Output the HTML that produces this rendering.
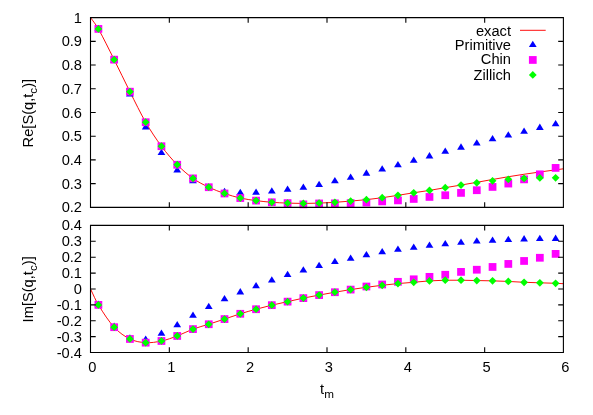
<!DOCTYPE html>
<html><head><meta charset="utf-8"><title>plot</title>
<style>html,body{margin:0;padding:0;background:#fff}svg{display:block;will-change:transform}</style>
</head><body>
<svg width="593" height="415" viewBox="0 0 593 415">
<rect width="593" height="415" fill="#fff"/>
<path d="M90.50 17.50 C93.13 21.30 95.76 24.22 98.38 28.90 C103.64 38.27 108.89 49.19 114.15 59.66 C119.41 70.12 124.66 81.26 129.92 91.70 C135.17 102.13 140.43 113.15 145.68 122.24 C150.94 131.33 156.19 139.14 161.45 146.22 C166.71 153.31 171.96 159.39 177.22 164.75 C182.47 170.11 187.73 174.64 192.98 178.38 C198.24 182.13 203.49 184.70 208.75 187.22 C214.01 189.74 219.26 191.68 224.52 193.49 C229.77 195.29 235.03 196.86 240.28 198.05 C245.54 199.23 250.79 199.91 256.05 200.61 C261.31 201.32 266.56 201.86 271.82 202.28 C277.07 202.69 282.33 202.91 287.58 203.11 C292.84 203.30 298.09 203.46 303.35 203.46 C308.61 203.46 313.86 203.30 319.12 203.11 C324.37 202.92 329.63 202.66 334.88 202.32 C340.14 201.99 345.39 201.53 350.65 201.09 C355.91 200.64 361.16 200.22 366.42 199.66 C371.67 199.10 376.93 198.44 382.18 197.72 C387.44 196.99 392.69 196.14 397.95 195.32 C403.21 194.49 408.46 193.59 413.72 192.78 C418.97 191.96 424.23 191.25 429.48 190.40 C434.74 189.55 439.99 188.56 445.25 187.67 C450.51 186.78 455.76 185.95 461.02 185.06 C466.27 184.17 471.53 183.26 476.78 182.32 C482.04 181.39 487.29 180.41 492.55 179.47 C497.81 178.54 503.06 177.61 508.32 176.74 C513.57 175.87 518.83 175.04 524.08 174.25 C529.34 173.46 534.59 172.73 539.85 171.99 C545.11 171.26 550.36 170.57 555.62 169.86 C558.24 169.50 560.87 169.14 563.50 168.79" fill="none" stroke="#f00" stroke-width="0.95"/>
<g fill="#00f"><path d="M98.38 24.80L94.51 31.08L102.26 31.08Z"/><path d="M114.15 56.39L110.28 62.66L118.03 62.66Z"/><path d="M129.92 90.11L126.04 96.39L133.79 96.39Z"/><path d="M145.68 123.12L141.81 129.40L149.56 129.40Z"/><path d="M161.45 148.65L157.57 154.93L165.32 154.93Z"/><path d="M177.22 166.11L173.34 172.39L181.09 172.39Z"/><path d="M192.98 177.03L189.11 183.31L196.86 183.31Z"/><path d="M208.75 183.45L204.88 189.73L212.62 189.73Z"/><path d="M224.52 187.72L220.64 194.00L228.39 194.00Z"/><path d="M240.28 188.67L236.41 194.95L244.16 194.95Z"/><path d="M256.05 188.39L252.18 194.66L259.93 194.66Z"/><path d="M271.82 187.30L267.94 193.57L275.69 193.57Z"/><path d="M287.58 185.58L283.71 191.86L291.46 191.86Z"/><path d="M303.35 183.57L299.48 189.84L307.23 189.84Z"/><path d="M319.12 180.67L315.24 186.95L322.99 186.95Z"/><path d="M334.88 177.08L331.01 183.36L338.76 183.36Z"/><path d="M350.65 173.47L346.77 179.75L354.52 179.75Z"/><path d="M366.42 169.36L362.54 175.64L370.29 175.64Z"/><path d="M382.18 165.16L378.31 171.44L386.06 171.44Z"/><path d="M397.95 161.00L394.07 167.28L401.82 167.28Z"/><path d="M413.72 156.42L409.84 162.70L417.59 162.70Z"/><path d="M429.48 152.12L425.61 158.40L433.36 158.40Z"/><path d="M445.25 147.59L441.38 153.86L449.12 153.86Z"/><path d="M461.02 143.36L457.14 149.63L464.89 149.63Z"/><path d="M476.78 139.15L472.91 145.43L480.66 145.43Z"/><path d="M492.55 135.04L488.67 141.32L496.42 141.32Z"/><path d="M508.32 131.20L504.44 137.47L512.19 137.47Z"/><path d="M524.08 127.47L520.21 133.75L527.96 133.75Z"/><path d="M539.85 123.60L535.97 129.88L543.72 129.88Z"/><path d="M555.62 119.96L551.74 126.24L559.49 126.24Z"/></g>
<g fill="#f0f"><rect x="94.51" y="25.03" width="7.75" height="7.75"/><rect x="110.28" y="55.78" width="7.75" height="7.75"/><rect x="126.04" y="87.82" width="7.75" height="7.75"/><rect x="141.81" y="118.36" width="7.75" height="7.75"/><rect x="157.57" y="142.35" width="7.75" height="7.75"/><rect x="173.34" y="160.87" width="7.75" height="7.75"/><rect x="189.11" y="174.51" width="7.75" height="7.75"/><rect x="204.88" y="183.34" width="7.75" height="7.75"/><rect x="220.64" y="189.61" width="7.75" height="7.75"/><rect x="236.41" y="194.17" width="7.75" height="7.75"/><rect x="252.18" y="196.74" width="7.75" height="7.75"/><rect x="267.94" y="198.40" width="7.75" height="7.75"/><rect x="283.71" y="199.23" width="7.75" height="7.75"/><rect x="299.48" y="200.49" width="7.75" height="7.75"/><rect x="315.24" y="199.59" width="7.75" height="7.75"/><rect x="331.01" y="199.47" width="7.75" height="7.75"/><rect x="346.77" y="199.23" width="7.75" height="7.75"/><rect x="362.54" y="198.71" width="7.75" height="7.75"/><rect x="378.31" y="197.52" width="7.75" height="7.75"/><rect x="394.07" y="196.50" width="7.75" height="7.75"/><rect x="409.84" y="195.07" width="7.75" height="7.75"/><rect x="425.61" y="193.06" width="7.75" height="7.75"/><rect x="441.38" y="191.37" width="7.75" height="7.75"/><rect x="457.14" y="189.02" width="7.75" height="7.75"/><rect x="472.91" y="186.34" width="7.75" height="7.75"/><rect x="488.67" y="183.06" width="7.75" height="7.75"/><rect x="504.44" y="179.69" width="7.75" height="7.75"/><rect x="520.21" y="175.50" width="7.75" height="7.75"/><rect x="535.97" y="170.45" width="7.75" height="7.75"/><rect x="551.74" y="164.03" width="7.75" height="7.75"/></g>
<g fill="#0f0"><path d="M98.38 25.03L102.26 28.90L98.38 32.78L94.51 28.90Z"/><path d="M114.15 55.78L118.03 59.66L114.15 63.53L110.28 59.66Z"/><path d="M129.92 87.82L133.79 91.70L129.92 95.57L126.04 91.70Z"/><path d="M145.68 118.36L149.56 122.24L145.68 126.11L141.81 122.24Z"/><path d="M161.45 142.35L165.32 146.22L161.45 150.10L157.57 146.22Z"/><path d="M177.22 160.87L181.09 164.75L177.22 168.62L173.34 164.75Z"/><path d="M192.98 174.51L196.86 178.38L192.98 182.26L189.11 178.38Z"/><path d="M208.75 183.34L212.62 187.22L208.75 191.09L204.88 187.22Z"/><path d="M224.52 189.61L228.39 193.49L224.52 197.36L220.64 193.49Z"/><path d="M240.28 194.17L244.16 198.05L240.28 201.92L236.41 198.05Z"/><path d="M256.05 196.74L259.93 200.61L256.05 204.49L252.18 200.61Z"/><path d="M271.82 198.40L275.69 202.28L271.82 206.15L267.94 202.28Z"/><path d="M287.58 199.23L291.46 203.11L287.58 206.98L283.71 203.11Z"/><path d="M303.35 199.59L307.23 203.46L303.35 207.34L299.48 203.46Z"/><path d="M319.12 199.23L322.99 203.11L319.12 206.98L315.24 203.11Z"/><path d="M334.88 198.45L338.76 202.32L334.88 206.20L331.01 202.32Z"/><path d="M350.65 197.21L354.52 201.09L350.65 204.96L346.77 201.09Z"/><path d="M366.42 195.79L370.29 199.66L366.42 203.54L362.54 199.66Z"/><path d="M382.18 193.84L386.06 197.72L382.18 201.59L378.31 197.72Z"/><path d="M397.95 191.44L401.82 195.32L397.95 199.19L394.07 195.32Z"/><path d="M413.72 188.90L417.59 192.78L413.72 196.65L409.84 192.78Z"/><path d="M429.48 186.52L433.36 190.40L429.48 194.27L425.61 190.40Z"/><path d="M445.25 183.79L449.12 187.67L445.25 191.54L441.38 187.67Z"/><path d="M461.02 181.18L464.89 185.06L461.02 188.93L457.14 185.06Z"/><path d="M476.78 178.92L480.66 182.80L476.78 186.67L472.91 182.80Z"/><path d="M492.55 176.98L496.42 180.85L492.55 184.73L488.67 180.85Z"/><path d="M508.32 175.48L512.19 179.36L508.32 183.23L504.44 179.36Z"/><path d="M524.08 174.58L527.96 178.45L524.08 182.33L520.21 178.45Z"/><path d="M539.85 174.06L543.72 177.93L539.85 181.81L535.97 177.93Z"/><path d="M555.62 173.94L559.49 177.81L555.62 181.69L551.74 177.81Z"/></g>
<path d="M90.50 288.95 C93.13 294.26 95.76 300.64 98.38 304.89 C103.64 313.39 108.89 321.52 114.15 327.20 C119.41 332.88 124.66 336.40 129.92 338.98 C135.17 341.55 140.43 342.32 145.68 342.66 C150.94 342.99 156.19 342.10 161.45 340.99 C166.71 339.87 171.96 337.94 177.22 335.97 C182.47 333.99 187.73 331.06 192.98 329.11 C198.24 327.16 203.49 325.92 208.75 324.25 C214.01 322.58 219.26 320.82 224.52 319.07 C229.77 317.33 235.03 315.42 240.28 313.78 C245.54 312.14 250.79 310.68 256.05 309.24 C261.31 307.80 266.56 306.43 271.82 305.16 C277.07 303.89 282.33 302.81 287.58 301.64 C292.84 300.46 298.09 299.21 303.35 298.11 C308.61 297.02 313.86 296.07 319.12 295.09 C324.37 294.11 329.63 293.15 334.88 292.23 C340.14 291.32 345.39 290.41 350.65 289.59 C355.91 288.76 361.16 287.99 366.42 287.28 C371.67 286.56 376.93 285.90 382.18 285.28 C387.44 284.67 392.69 284.08 397.95 283.58 C403.21 283.07 408.46 282.71 413.72 282.26 C418.97 281.81 424.23 281.23 429.48 280.89 C434.74 280.55 439.99 280.33 445.25 280.22 C450.51 280.10 455.76 280.16 461.02 280.22 C466.27 280.27 471.53 280.44 476.78 280.55 C482.04 280.66 487.29 280.71 492.55 280.85 C497.81 281.00 503.06 281.19 508.32 281.43 C513.57 281.67 518.83 282.06 524.08 282.29 C529.34 282.52 534.59 282.63 539.85 282.80 C545.11 282.97 550.36 283.09 555.62 283.29 C558.24 283.39 560.87 283.56 563.50 283.69" fill="none" stroke="#f00" stroke-width="0.95"/>
<g fill="#00f"><path d="M98.38 300.55L94.51 306.82L102.26 306.82Z"/><path d="M114.15 322.54L110.28 328.82L118.03 328.82Z"/><path d="M129.92 334.18L126.04 340.45L133.79 340.45Z"/><path d="M145.68 335.45L141.81 341.73L149.56 341.73Z"/><path d="M161.45 329.55L157.57 335.83L165.32 335.83Z"/><path d="M177.22 320.95L173.34 327.22L181.09 327.22Z"/><path d="M192.98 311.54L189.11 317.82L196.86 317.82Z"/><path d="M208.75 302.68L204.88 308.96L212.62 308.96Z"/><path d="M224.52 295.03L220.64 301.31L228.39 301.31Z"/><path d="M240.28 288.12L236.41 294.39L244.16 294.39Z"/><path d="M256.05 281.95L252.18 288.23L259.93 288.23Z"/><path d="M271.82 276.16L267.94 282.44L275.69 282.44Z"/><path d="M287.58 270.78L283.71 277.05L291.46 277.05Z"/><path d="M303.35 266.17L299.48 272.45L307.23 272.45Z"/><path d="M319.12 261.82L315.24 268.10L322.99 268.10Z"/><path d="M334.88 257.76L331.01 264.03L338.76 264.03Z"/><path d="M350.65 254.41L346.77 260.69L354.52 260.69Z"/><path d="M366.42 250.90L362.54 257.18L370.29 257.18Z"/><path d="M382.18 247.95L378.31 254.23L386.06 254.23Z"/><path d="M397.95 245.56L394.07 251.84L401.82 251.84Z"/><path d="M413.72 243.49L409.84 249.77L417.59 249.77Z"/><path d="M429.48 241.42L425.61 247.70L433.36 247.70Z"/><path d="M445.25 239.91L441.38 246.18L449.12 246.18Z"/><path d="M461.02 238.47L457.14 244.75L464.89 244.75Z"/><path d="M476.78 237.28L472.91 243.55L480.66 243.55Z"/><path d="M492.55 236.43L488.67 242.71L496.42 242.71Z"/><path d="M508.32 235.75L504.44 242.02L512.19 242.02Z"/><path d="M524.08 235.12L520.21 241.40L527.96 241.40Z"/><path d="M539.85 234.79L535.97 241.07L543.72 241.07Z"/><path d="M555.62 234.61L551.74 240.89L559.49 240.89Z"/></g>
<g fill="#f0f"><rect x="94.51" y="301.01" width="7.75" height="7.75"/><rect x="110.28" y="323.32" width="7.75" height="7.75"/><rect x="126.04" y="335.10" width="7.75" height="7.75"/><rect x="141.81" y="338.78" width="7.75" height="7.75"/><rect x="157.57" y="337.11" width="7.75" height="7.75"/><rect x="173.34" y="332.09" width="7.75" height="7.75"/><rect x="189.11" y="325.24" width="7.75" height="7.75"/><rect x="204.88" y="320.38" width="7.75" height="7.75"/><rect x="220.64" y="315.20" width="7.75" height="7.75"/><rect x="236.41" y="309.91" width="7.75" height="7.75"/><rect x="252.18" y="305.36" width="7.75" height="7.75"/><rect x="267.94" y="301.28" width="7.75" height="7.75"/><rect x="283.71" y="297.76" width="7.75" height="7.75"/><rect x="299.48" y="294.24" width="7.75" height="7.75"/><rect x="315.24" y="291.21" width="7.75" height="7.75"/><rect x="331.01" y="288.36" width="7.75" height="7.75"/><rect x="346.77" y="285.71" width="7.75" height="7.75"/><rect x="362.54" y="282.64" width="7.75" height="7.75"/><rect x="378.31" y="280.61" width="7.75" height="7.75"/><rect x="394.07" y="277.94" width="7.75" height="7.75"/><rect x="409.84" y="275.42" width="7.75" height="7.75"/><rect x="425.61" y="272.99" width="7.75" height="7.75"/><rect x="441.38" y="270.89" width="7.75" height="7.75"/><rect x="457.14" y="268.02" width="7.75" height="7.75"/><rect x="472.91" y="265.85" width="7.75" height="7.75"/><rect x="488.67" y="263.08" width="7.75" height="7.75"/><rect x="504.44" y="260.05" width="7.75" height="7.75"/><rect x="520.21" y="257.09" width="7.75" height="7.75"/><rect x="535.97" y="253.89" width="7.75" height="7.75"/><rect x="551.74" y="250.01" width="7.75" height="7.75"/></g>
<g fill="#0f0"><path d="M98.38 301.01L102.26 304.89L98.38 308.76L94.51 304.89Z"/><path d="M114.15 323.32L118.03 327.20L114.15 331.07L110.28 327.20Z"/><path d="M129.92 335.10L133.79 338.98L129.92 342.85L126.04 338.98Z"/><path d="M145.68 338.78L149.56 342.66L145.68 346.53L141.81 342.66Z"/><path d="M161.45 337.11L165.32 340.99L161.45 344.86L157.57 340.99Z"/><path d="M177.22 332.09L181.09 335.97L177.22 339.84L173.34 335.97Z"/><path d="M192.98 325.24L196.86 329.11L192.98 332.99L189.11 329.11Z"/><path d="M208.75 320.38L212.62 324.25L208.75 328.13L204.88 324.25Z"/><path d="M224.52 315.20L228.39 319.07L224.52 322.95L220.64 319.07Z"/><path d="M240.28 309.91L244.16 313.78L240.28 317.66L236.41 313.78Z"/><path d="M256.05 305.36L259.93 309.24L256.05 313.11L252.18 309.24Z"/><path d="M271.82 301.28L275.69 305.16L271.82 309.03L267.94 305.16Z"/><path d="M287.58 297.76L291.46 301.64L287.58 305.51L283.71 301.64Z"/><path d="M303.35 294.24L307.23 298.11L303.35 301.99L299.48 298.11Z"/><path d="M319.12 291.21L322.99 295.09L319.12 298.96L315.24 295.09Z"/><path d="M334.88 288.36L338.76 292.23L334.88 296.11L331.01 292.23Z"/><path d="M350.65 285.71L354.52 289.59L350.65 293.46L346.77 289.59Z"/><path d="M366.42 283.40L370.29 287.28L366.42 291.15L362.54 287.28Z"/><path d="M382.18 281.41L386.06 285.28L382.18 289.16L378.31 285.28Z"/><path d="M397.95 279.70L401.82 283.58L397.95 287.45L394.07 283.58Z"/><path d="M413.72 278.38L417.59 282.26L413.72 286.13L409.84 282.26Z"/><path d="M429.48 277.01L433.36 280.89L429.48 284.76L425.61 280.89Z"/><path d="M445.25 276.34L449.12 280.22L445.25 284.09L441.38 280.22Z"/><path d="M461.02 276.34L464.89 280.22L461.02 284.09L457.14 280.22Z"/><path d="M476.78 276.68L480.66 280.55L476.78 284.43L472.91 280.55Z"/><path d="M492.55 276.98L496.42 280.85L492.55 284.73L488.67 280.85Z"/><path d="M508.32 277.55L512.19 281.43L508.32 285.30L504.44 281.43Z"/><path d="M524.08 278.41L527.96 282.29L524.08 286.16L520.21 282.29Z"/><path d="M539.85 278.92L543.72 282.80L539.85 286.67L535.97 282.80Z"/><path d="M555.62 279.42L559.49 283.29L555.62 287.17L551.74 283.29Z"/></g>
<path d="M520 30.3H545.7" stroke="#f00" stroke-width="0.95" fill="none"/>
<g fill="#00f"><path d="M532.80 40.76L528.92 47.04L536.67 47.04Z"/></g>
<g fill="#f0f"><rect x="528.92" y="56.08" width="7.75" height="7.75"/></g>
<g fill="#0f0"><path d="M532.80 71.03L536.67 74.90L532.80 78.78L528.92 74.90Z"/></g>
<path d="M90.50 17.65H563.40V207.35H90.50ZM169.33 17.65v5.20M169.33 207.35v-5.20M248.17 17.65v5.20M248.17 207.35v-5.20M327.00 17.65v5.20M327.00 207.35v-5.20M405.83 17.65v5.20M405.83 207.35v-5.20M484.67 17.65v5.20M484.67 207.35v-5.20M90.50 41.36h5.20M563.40 41.36h-5.20M90.50 65.07h5.20M563.40 65.07h-5.20M90.50 88.79h5.20M563.40 88.79h-5.20M90.50 112.50h5.20M563.40 112.50h-5.20M90.50 136.21h5.20M563.40 136.21h-5.20M90.50 159.92h5.20M563.40 159.92h-5.20M90.50 183.64h5.20M563.40 183.64h-5.20" fill="none" stroke="#000" stroke-width="1.1"/>
<path d="M90.50 225.40H563.40V352.55H90.50ZM169.33 225.40v5.20M169.33 352.55v-5.20M248.17 225.40v5.20M248.17 352.55v-5.20M327.00 225.40v5.20M327.00 352.55v-5.20M405.83 225.40v5.20M405.83 352.55v-5.20M484.67 225.40v5.20M484.67 352.55v-5.20M90.50 241.29h5.20M563.40 241.29h-5.20M90.50 257.19h5.20M563.40 257.19h-5.20M90.50 273.08h5.20M563.40 273.08h-5.20M90.50 288.98h5.20M563.40 288.98h-5.20M90.50 304.87h5.20M563.40 304.87h-5.20M90.50 320.76h5.20M563.40 320.76h-5.20M90.50 336.66h5.20M563.40 336.66h-5.20" fill="none" stroke="#000" stroke-width="1.1"/>
<g font-family="Liberation Sans, sans-serif" font-size="14.67" fill="#000">
<text x="82" y="22.65" text-anchor="end">1</text>
<text x="82" y="46.36" text-anchor="end">0.9</text>
<text x="82" y="70.07" text-anchor="end">0.8</text>
<text x="82" y="93.79" text-anchor="end">0.7</text>
<text x="82" y="117.50" text-anchor="end">0.6</text>
<text x="82" y="141.21" text-anchor="end">0.5</text>
<text x="82" y="164.92" text-anchor="end">0.4</text>
<text x="82" y="188.64" text-anchor="end">0.3</text>
<text x="82" y="212.35" text-anchor="end">0.2</text>
<text x="82" y="230.40" text-anchor="end">0.4</text>
<text x="82" y="246.29" text-anchor="end">0.3</text>
<text x="82" y="262.19" text-anchor="end">0.2</text>
<text x="82" y="278.08" text-anchor="end">0.1</text>
<text x="82" y="293.98" text-anchor="end">0</text>
<text x="82" y="309.87" text-anchor="end">-0.1</text>
<text x="82" y="325.76" text-anchor="end">-0.2</text>
<text x="82" y="341.66" text-anchor="end">-0.3</text>
<text x="82" y="357.55" text-anchor="end">-0.4</text>
<text x="92.40" y="372.4" text-anchor="middle">0</text>
<text x="171.23" y="372.4" text-anchor="middle">1</text>
<text x="250.07" y="372.4" text-anchor="middle">2</text>
<text x="328.90" y="372.4" text-anchor="middle">3</text>
<text x="407.73" y="372.4" text-anchor="middle">4</text>
<text x="486.57" y="372.4" text-anchor="middle">5</text>
<text x="565.40" y="372.4" text-anchor="middle">6</text>
<text x="511" y="35.50" text-anchor="end">exact</text>
<text x="511" y="50.00" text-anchor="end">Primitive</text>
<text x="511" y="64.40" text-anchor="end">Chin</text>
<text x="511" y="79.50" text-anchor="end">Zillich</text>
<text x="320.1" y="393.7">t<tspan font-size="11.7" dy="3.8">m</tspan></text>
<text transform="translate(33.1 147.4) rotate(-90)">Re[S(q,t<tspan font-size="11.7" dy="3.8">c</tspan><tspan dy="-3.8">)]</tspan></text>
<text transform="translate(33.1 322.4) rotate(-90)">Im[S(q,t<tspan font-size="11.7" dy="3.8">c</tspan><tspan dy="-3.8">)]</tspan></text>
</g>
</svg>
</body></html>
